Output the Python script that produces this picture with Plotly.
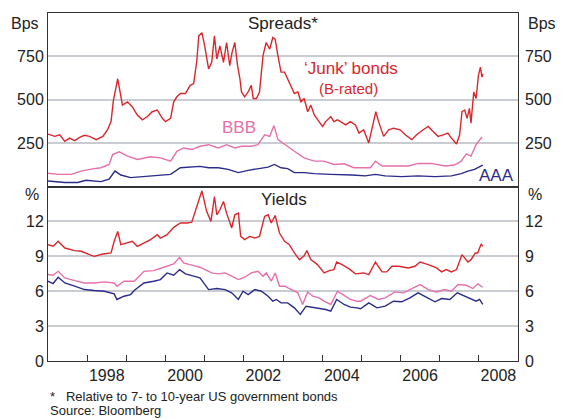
import plotly.graph_objects as go

# decimal-year dates and values
junk_spread_t = [1997.00, 1997.17, 1997.30, 1997.43, 1997.55, 1997.68, 1997.81, 1997.93, 1998.06, 1998.23,
                 1998.40, 1998.52, 1998.61, 1998.67, 1998.73, 1998.78, 1998.84, 1998.90, 1999.03, 1999.15,
                 1999.28, 1999.41, 1999.54, 1999.66, 1999.79, 1999.92, 2000.00, 2000.13, 2000.21, 2000.29,
                 2000.38, 2000.51, 2000.63, 2000.72, 2000.80, 2000.85, 2000.93, 2001.00, 2001.10, 2001.18,
                 2001.25, 2001.31, 2001.39, 2001.48, 2001.56, 2001.64, 2001.70, 2001.77, 2001.84, 2001.90,
                 2001.94, 2002.02, 2002.11, 2002.19, 2002.24, 2002.32, 2002.40, 2002.49, 2002.57, 2002.66,
                 2002.74, 2002.80, 2002.87, 2002.95, 2003.04, 2003.12, 2003.21, 2003.29, 2003.38, 2003.46,
                 2003.54, 2003.63, 2003.71, 2003.80, 2003.92, 2004.01, 2004.09, 2004.22, 2004.30, 2004.39,
                 2004.47, 2004.60, 2004.72, 2004.85, 2004.94, 2005.06, 2005.19, 2005.27, 2005.37, 2005.44,
                 2005.57, 2005.70, 2005.82, 2005.99, 2006.12, 2006.29, 2006.41, 2006.58, 2006.71, 2006.83,
                 2006.96, 2007.09, 2007.21, 2007.30, 2007.43, 2007.51, 2007.57, 2007.64, 2007.70, 2007.76,
                 2007.80, 2007.87, 2007.93, 2007.99, 2008.04, 2008.08, 2008.10]
junk_spread = [302, 289, 298, 260, 279, 264, 283, 295, 289, 270,
               289, 327, 374, 498, 564, 621, 545, 469, 488, 460,
               412, 384, 403, 431, 441, 393, 374, 393, 488, 517,
               536, 536, 583, 593, 726, 868, 887, 811, 678, 716,
               868, 735, 811, 716, 830, 697, 773, 830, 697, 621,
               545, 517, 545, 583, 507, 507, 545, 754, 830, 792,
               859, 849, 754, 659, 659, 621, 583, 536, 545, 488,
               507, 431, 469, 412, 374, 346, 374, 403, 374, 384,
               374, 355, 374, 355, 308, 327, 251, 336, 431, 374,
               289, 327, 336, 327, 298, 270, 298, 327, 346, 317,
               289, 298, 308, 279, 245, 298, 431, 441, 393, 450,
               365, 545, 507, 640, 688, 631, 650]

bbb_spread_t = [1997.00, 1997.26, 1997.59, 1997.85, 1998.06, 1998.35, 1998.56, 1998.65, 1998.82, 1999.03,
                1999.28, 1999.62, 1999.87, 2000.13, 2000.29, 2000.46, 2000.67, 2000.88, 2001.10, 2001.35,
                2001.56, 2001.77, 2001.94, 2002.19, 2002.36, 2002.53, 2002.66, 2002.77, 2002.87, 2003.04,
                2003.29, 2003.54, 2003.80, 2004.05, 2004.30, 2004.56, 2004.81, 2005.02, 2005.23, 2005.36,
                2005.53, 2005.86, 2006.20, 2006.45, 2006.79, 2007.13, 2007.38, 2007.55, 2007.68, 2007.80,
                2007.93, 2008.08]
bbb_spread = [76, 70, 70, 89, 99, 108, 127, 184, 200, 175,
              156, 171, 165, 146, 203, 222, 213, 232, 241, 222,
              241, 222, 232, 232, 241, 298, 289, 351, 270, 241,
              203, 165, 146, 146, 127, 131, 108, 108, 108, 146,
              118, 118, 118, 133, 133, 118, 124, 146, 188, 175,
              241, 285]

aaa_spread_t = [1997.00, 1997.43, 1997.76, 1997.97, 1998.35, 1998.56, 1998.71, 1998.86, 1999.11, 1999.45,
                1999.79, 2000.13, 2000.38, 2000.63, 2000.88, 2001.10, 2001.35, 2001.60, 2001.86, 2002.11,
                2002.36, 2002.62, 2002.78, 2002.95, 2003.12, 2003.29, 2003.54, 2003.80, 2004.22, 2004.56,
                2004.77, 2005.10, 2005.36, 2005.61, 2006.03, 2006.45, 2006.88, 2007.30, 2007.55, 2007.72,
                2007.89, 2008.10]
aaa_spread = [32, 23, 23, 36, 28, 42, 89, 66, 51, 57,
              66, 70, 108, 112, 116, 108, 108, 99, 80, 93,
              104, 112, 127, 108, 103, 80, 80, 74, 70, 70,
              66, 61, 70, 61, 57, 61, 57, 61, 74, 89,
              99, 123]

junk_yield_t = [1997.00, 1997.13, 1997.26, 1997.43, 1997.68, 1997.85, 1998.06, 1998.18, 1998.40, 1998.61,
                1998.69, 1998.78, 1998.86, 1999.03, 1999.15, 1999.28, 1999.45, 1999.62, 1999.79, 1999.87,
                2000.04, 2000.21, 2000.38, 2000.55, 2000.67, 2000.76, 2000.84, 2000.93, 2001.05, 2001.16,
                2001.25, 2001.31, 2001.39, 2001.48, 2001.56, 2001.69, 2001.77, 2001.86, 2001.92, 2002.02,
                2002.15, 2002.28, 2002.40, 2002.53, 2002.62, 2002.70, 2002.80, 2002.91, 2003.04, 2003.16,
                2003.29, 2003.42, 2003.53, 2003.61, 2003.71, 2003.88, 2004.05, 2004.18, 2004.30, 2004.37,
                2004.51, 2004.68, 2004.85, 2005.06, 2005.19, 2005.36, 2005.53, 2005.65, 2005.78, 2005.95,
                2006.20, 2006.37, 2006.50, 2006.71, 2006.92, 2007.05, 2007.17, 2007.30, 2007.43, 2007.57,
                2007.72, 2007.80, 2007.91, 2007.97, 2008.06, 2008.10]
junk_yield = [10.0, 9.86, 10.29, 9.71, 9.49, 9.43, 9.14, 9.0, 9.2, 9.29,
              10.29, 11.14, 10.0, 10.14, 10.29, 9.86, 10.14, 10.43, 10.86, 10.57,
              10.86, 11.49, 11.86, 11.86, 11.94, 12.86, 13.71, 14.63, 12.86, 12.0,
              14.14, 12.57, 13.0, 13.71, 12.71, 11.43, 12.57, 12.71, 10.71, 10.43,
              10.71, 10.57, 10.71, 12.43, 12.57, 11.86, 12.51, 11.0, 10.29, 10.0,
              9.29, 8.71, 9.0, 9.49, 8.71, 8.29, 7.57, 7.77, 7.86, 8.51,
              8.29, 7.94, 7.49, 7.57, 7.43, 8.51, 7.66, 7.66, 8.14, 8.14,
              8.0, 8.14, 8.51, 8.29, 8.0, 7.66, 7.86, 7.66, 7.86, 9.14,
              8.51, 8.71, 9.29, 9.29, 10.06, 9.86]

bbb_yield_t = [1997.00, 1997.13, 1997.26, 1997.43, 1997.68, 1997.93, 1998.18, 1998.44, 1998.69, 1998.76,
               1998.94, 1999.20, 1999.45, 1999.70, 1999.96, 2000.21, 2000.36, 2000.46, 2000.72, 2000.88,
               2001.01, 2001.18, 2001.35, 2001.52, 2001.69, 2001.86, 2002.02, 2002.19, 2002.36, 2002.49,
               2002.57, 2002.70, 2002.80, 2002.91, 2003.04, 2003.21, 2003.38, 2003.50, 2003.63, 2003.76,
               2003.92, 2004.05, 2004.22, 2004.39, 2004.56, 2004.72, 2004.89, 2004.98, 2005.23, 2005.44,
               2005.61, 2005.86, 2006.07, 2006.29, 2006.50, 2006.71, 2006.92, 2007.13, 2007.30, 2007.47,
               2007.68, 2007.85, 2007.97, 2008.10]
bbb_yield = [7.43, 7.37, 7.71, 7.14, 6.91, 6.71, 6.71, 6.8, 6.71, 6.43,
             6.86, 6.86, 7.71, 7.77, 8.06, 8.34, 8.91, 8.43, 8.2, 8.06,
             7.86, 7.57, 7.49, 7.57, 7.29, 7.0, 7.2, 7.57, 7.71, 7.29,
             7.57, 6.86, 7.57, 6.43, 6.43, 6.14, 5.86, 4.86, 5.94, 5.57,
             5.43, 5.14, 4.86, 6.0, 5.63, 5.29, 5.14, 5.14, 5.63, 5.29,
             5.43, 5.94, 5.86, 6.23, 6.57, 6.14, 5.94, 6.14, 6.0, 6.57,
             6.51, 6.23, 6.63, 6.34]

aaa_yield_t = [1997.00, 1997.13, 1997.26, 1997.43, 1997.68, 1997.93, 1998.18, 1998.44, 1998.69, 1998.76,
               1998.94, 1999.11, 1999.20, 1999.45, 1999.70, 1999.87, 2000.04, 2000.21, 2000.36, 2000.51,
               2000.72, 2000.88, 2001.10, 2001.31, 2001.52, 2001.69, 2001.86, 2001.98, 2002.11, 2002.28,
               2002.45, 2002.62, 2002.74, 2002.83, 2002.95, 2003.12, 2003.29, 2003.44, 2003.59, 2003.76,
               2003.92, 2004.09, 2004.22, 2004.37, 2004.56, 2004.72, 2004.89, 2004.98, 2005.19, 2005.40,
               2005.61, 2005.82, 2006.03, 2006.24, 2006.45, 2006.67, 2006.88, 2007.05, 2007.26, 2007.45,
               2007.64, 2007.80, 2007.93, 2008.02, 2008.10]
aaa_yield = [6.86, 6.66, 7.2, 6.71, 6.43, 6.14, 6.06, 6.0, 5.77, 5.29,
             5.57, 5.71, 6.06, 6.71, 6.86, 7.0, 7.57, 7.37, 7.86, 7.49,
             7.29, 7.14, 6.14, 6.23, 6.14, 5.86, 5.29, 6.0, 5.71, 6.14,
             6.0, 5.57, 5.14, 5.29, 5.0, 5.0, 4.57, 4.0, 4.71, 4.63,
             4.57, 4.43, 4.29, 5.29, 4.86, 4.63, 4.57, 4.49, 5.0, 4.57,
             4.71, 5.14, 5.09, 5.43, 5.86, 5.43, 5.09, 5.37, 5.29, 5.86,
             5.57, 5.29, 5.14, 5.29, 4.86]

spread_ticks = [250, 500, 750]
yield_ticks = [0, 3, 6, 9, 12]
year_ticks = list(range(1998, 2009))
year_labels = ['1998', '2000', '2002', '2004', '2006', '2008']

RED = '#d9282d'
PINK = '#e670aa'
NAVY = '#2b2b8a'
GRID = '#c9cdd2'
AXIS = '#333333'
FONT = 'Arial, Liberation Sans, sans-serif'

fig = go.Figure()

def add_line(t, v, color, yaxis):
    fig.add_trace(go.Scatter(x=t, y=v, mode='lines', xaxis='x' if yaxis == 'y' else 'x2', yaxis=yaxis,
                             line=dict(color=color, width=1.4), showlegend=False, hoverinfo='skip'))

add_line(aaa_spread_t, aaa_spread, NAVY, 'y')
add_line(bbb_spread_t, bbb_spread, PINK, 'y')
add_line(junk_spread_t, junk_spread, RED, 'y')
add_line(aaa_yield_t, aaa_yield, NAVY, 'y2')
add_line(bbb_yield_t, bbb_yield, PINK, 'y2')
add_line(junk_yield_t, junk_yield, RED, 'y2')

split = 175 / 349
xrange_ = [1997, 2009]
tick_font = dict(family=FONT, size=16, color='#222')

fig.update_layout(
    width=564, height=419,
    margin=dict(l=48, r=42, t=12, b=58),
    paper_bgcolor='white', plot_bgcolor='white',
    font=dict(family=FONT, size=16, color='#222'),
    xaxis=dict(domain=[0, 1], anchor='y', range=xrange_, showticklabels=False, ticks='',
               showgrid=False, showline=True, linecolor=AXIS, linewidth=1, mirror=True, zeroline=False),
    yaxis=dict(domain=[split, 1], anchor='x', range=[0, 1000], tickvals=spread_ticks,
               ticks='', showgrid=True, gridcolor=GRID, gridwidth=1.5, tickfont=tick_font,
               showline=True, linecolor=AXIS, linewidth=1, mirror=True, zeroline=False),
    yaxis3=dict(overlaying='y', side='right', anchor='x', range=[0, 1000], tickvals=spread_ticks,
                ticks='', showgrid=False, tickfont=tick_font, zeroline=False, ticklabelstandoff=6),
    xaxis2=dict(domain=[0, 1], anchor='y2', range=xrange_,
                tickvals=[int(s) + 0.5 for s in year_labels], ticktext=year_labels, ticks='',
                tickfont=tick_font, showgrid=False, zeroline=False,
                minor=dict(tickvals=year_ticks, ticks='inside', ticklen=6, tickcolor=AXIS, showgrid=False),
                showline=True, linecolor=AXIS, linewidth=1, mirror=True),
    yaxis2=dict(domain=[0, split], anchor='x2', range=[0, 15], tickvals=yield_ticks,
                ticks='', showgrid=True, gridcolor=GRID, gridwidth=1.5, tickfont=tick_font,
                showline=True, linecolor=AXIS, linewidth=1, mirror=True, zeroline=False),
    yaxis4=dict(overlaying='y2', side='right', anchor='x2', range=[0, 15], tickvals=yield_ticks,
                ticks='', showgrid=False, tickfont=tick_font, zeroline=False, ticklabelstandoff=6),
)

# invisible traces so the right-hand axes get drawn
fig.add_trace(go.Scatter(x=[1997], y=[0], xaxis='x', yaxis='y3', mode='markers',
                         marker=dict(opacity=0), showlegend=False, hoverinfo='skip'))
fig.add_trace(go.Scatter(x=[1997], y=[0], xaxis='x2', yaxis='y4', mode='markers',
                         marker=dict(opacity=0), showlegend=False, hoverinfo='skip'))

def note(text, x, y, xanchor='center', size=16, color='#222'):
    fig.add_annotation(text=text, x=x, y=y, xref='paper', yref='paper', xanchor=xanchor,
                       yanchor='middle', showarrow=False, font=dict(family=FONT, size=size, color=color))

note('Bps', -0.014, 0.971, 'right')
note('Bps', 1.018, 0.971, 'left')
note('%', -0.014, 0.4785, 'right')
note('%', 1.018, 0.4785, 'left')
note('Spreads*', 0.5, 0.969, size=17)
note('Yields', 0.502, 0.464, size=17)
note('‘Junk’ bonds', 0.645, 0.8395, size=17, color=RED)
note('(B-rated)', 0.639, 0.783, size=15, color=RED)
note('BBB', 0.406, 0.671, size=17, color=PINK)
note('AAA', 0.954, 0.533, size=17, color=NAVY)
note('*&nbsp;&nbsp; Relative to 7- to 10-year US government bonds', 0.0, -0.103, 'left', size=13)
note('Source: Bloomberg', 0.0, -0.143, 'left', size=13)

# drop the browser's default body margin so the figure sits at the page corner
fig.write_html("out.html", config={'displayModeBar': False},
               post_script="document.body.style.margin='0';")
